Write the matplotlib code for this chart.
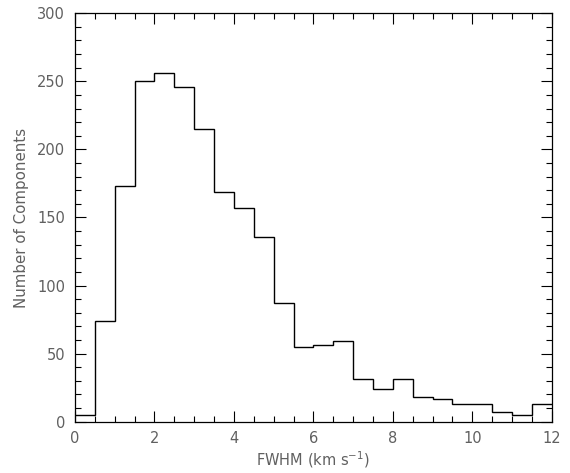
import numpy as np
import matplotlib.pyplot as plt
from matplotlib.ticker import MultipleLocator

#=============================================================================#
## histogram data: FWHM bins (km/s) and number of components per bin
bin_edges = np.arange(0.0, 12.5, 0.5)
counts = [5, 74, 173, 250, 256, 246, 215, 169, 157, 136, 87, 55,
          56, 59, 31, 24, 31, 18, 17, 13, 13, 7, 5, 13]

txt_color = '#606060'

fig = plt.figure(figsize=(5.7, 4.73), dpi=100)
ax = fig.add_axes([0.1316, 0.1085, 0.968 - 0.1316, 0.972 - 0.1085])

ax.stairs(counts, bin_edges, color='black', linewidth=1.0, baseline=None)

ax.set_xlim(0, 12)
ax.set_ylim(0, 300)
ax.xaxis.set_major_locator(MultipleLocator(2))
ax.xaxis.set_minor_locator(MultipleLocator(0.5))
ax.yaxis.set_major_locator(MultipleLocator(50))
ax.yaxis.set_minor_locator(MultipleLocator(10))
ax.tick_params(which='both', direction='in', top=True, right=True,
               labelsize=10.5, labelcolor=txt_color, width=0.8, pad=7)
ax.tick_params(which='major', length=8)
ax.tick_params(which='minor', length=4)
for sp in ax.spines.values():
    sp.set_linewidth(0.9)

ax.set_xlabel(r'FWHM (km s$^{-1}$)', fontsize=10.5, color=txt_color, labelpad=2)
ax.set_ylabel('Number of Components', fontsize=10.8, color=txt_color, labelpad=6)

plt.savefig('out.png', dpi=100)
